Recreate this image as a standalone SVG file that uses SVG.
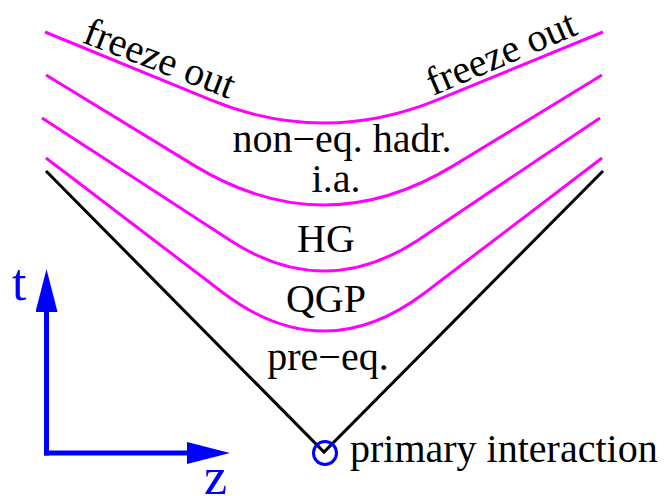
<svg xmlns="http://www.w3.org/2000/svg" width="667" height="496" viewBox="0 0 667 496">
  <style>
    .hyp { fill: none; stroke: #ff00ff; stroke-width: 3; stroke-linejoin: round; }
    .cone { fill: none; stroke: #000000; stroke-width: 3; stroke-linejoin: miter; }
    .axis { fill: none; stroke: #0000ff; stroke-width: 5; }
    .lbl { font-family: "Liberation Serif", "Times New Roman", serif; font-size: 40px; fill: #000000; }
    .ax { font-family: "Liberation Serif", "Times New Roman", serif; font-size: 52px; fill: #0000ff; }
  </style>
  <defs>
    <marker id="arr" viewBox="0 0 43 22" refX="0" refY="11" markerWidth="43" markerHeight="22" markerUnits="userSpaceOnUse" orient="auto">
      <path d="M0,0 L43,11 L0,22 Z" fill="#0000ff"/>
    </marker>
  </defs>
  <rect width="667" height="496" fill="#ffffff"/>

  <g id="connectors">
    <path id="freeze-out-curve" class="hyp" d="M45,32 L210,99.6 Q267,123 324,123 Q381,123 438,99.6 L603,32"/>
    <path id="hadr-curve" class="hyp" d="M46,75 L194,165.4 Q259,205 324,205 Q389,205 454,165.4 L602,75"/>
    <path id="hg-curve" class="hyp" d="M42,118 L230.8,240.7 Q277.4,271 324,271 Q370.6,271 417.2,240.7 L600,118"/>
    <path id="qgp-curve" class="hyp" d="M46,158 L223,292.7 Q273.6,331 324,331 Q374.4,331 425,292.7 L602,158"/>
    <path id="light-cone" class="cone" d="M46,171 L324,452 L603,171"/>
    <path id="t-axis" class="axis" d="M46.5,455.5 L46.5,312" marker-end="url(#arr)"/>
    <path id="z-axis" class="axis" d="M44,453 L187,453" marker-end="url(#arr)"/>
  </g>

  <g id="primary-interaction">
    <circle cx="325" cy="453" r="11.5" fill="none" stroke="#0000ff" stroke-width="3"/>
    <text class="lbl" x="350" y="462">primary interaction</text>
  </g>
  <g id="freeze-out-left">
    <text class="lbl" transform="translate(81,42) rotate(21)">freeze out</text>
  </g>
  <g id="freeze-out-right">
    <text class="lbl" transform="translate(433,96) rotate(-23)">freeze out</text>
  </g>
  <g id="non-eq-hadr">
    <text class="lbl" x="342" y="152" text-anchor="middle">non−eq. hadr.</text>
  </g>
  <g id="ia">
    <text class="lbl" x="336" y="192" text-anchor="middle">i.a.</text>
  </g>
  <g id="hg">
    <text class="lbl" x="326" y="252" text-anchor="middle">HG</text>
  </g>
  <g id="qgp">
    <text class="lbl" x="326" y="312" text-anchor="middle">QGP</text>
  </g>
  <g id="pre-eq">
    <text class="lbl" x="328" y="370" text-anchor="middle">pre−eq.</text>
  </g>
  <g id="t-label">
    <text class="ax" x="12" y="300">t</text>
  </g>
  <g id="z-label">
    <text class="ax" x="204" y="494">z</text>
  </g>
</svg>
